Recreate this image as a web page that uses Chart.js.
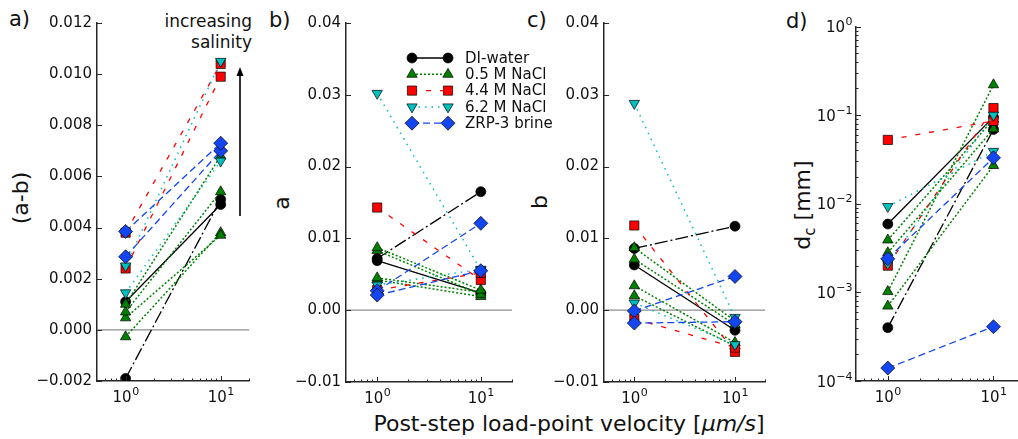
<!DOCTYPE html>
<html><head><meta charset="utf-8">
<script src="https://cdn.jsdelivr.net/npm/chart.js@4.4.1/dist/chart.umd.min.js"></script>
<style>
html,body{margin:0;padding:0;background:#fff;overflow:hidden;width:1018px;height:439px;}
body{position:relative;font-family:'DejaVu Sans',sans-serif;color:#111;}
canvas{position:absolute;top:0;}
.lbl{position:absolute;white-space:nowrap;line-height:1;}
.rot{transform:translate(-50%,-50%) rotate(-90deg);}
</style></head><body>
<div class="lbl" style="left:9px;top:9px;font-size:21px">a)</div>
<div class="lbl" style="left:269px;top:10px;font-size:21px">b)</div>
<div class="lbl" style="left:527px;top:10px;font-size:21px">c)</div>
<div class="lbl" style="left:786px;top:11px;font-size:21px">d)</div>
<div class="lbl rot" style="left:21px;top:198px;font-size:22px">(a-b)</div>
<div class="lbl rot" style="left:282px;top:203px;font-size:22px">a</div>
<div class="lbl rot" style="left:540px;top:202px;font-size:22px">b</div>
<div class="lbl rot" style="left:803px;top:205px;font-size:22px">d<span style="font-size:15px;position:relative;top:5px">c</span> [mm]</div>
<div class="lbl" style="left:569px;top:424px;transform:translate(-50%,-50%);font-size:22px">Post-step load-point velocity [<i>μm/s</i>]</div>
<div class="lbl" style="left:120px;width:132px;top:11px;text-align:right;font-size:17px;line-height:21px">increasing<br>salinity</div>
<script>
// ---------- data ----------
const velocities = [1, 10];
const fluids = ['DI-water', '0.5 M NaCl', '4.4 M NaCl', '6.2 M NaCl', 'ZRP-3 brine'];
// panel a: (a-b)  [value at 1, value at 10] per experiment
const abDI  = [[0.0011, 0.0049], [-0.0019, 0.0051]];
const ab05  = [[0.0010, 0.0068], [0.0007, 0.0054], [0.00047, 0.0037], [-0.00027, 0.0038]];
const ab44  = [[0.0038, 0.0104], [0.0024, 0.0099]];
const ab62  = [[0.0025, 0.0105], [0.00145, 0.0066]];
const abZRP = [[0.00385, 0.0073], [0.00286, 0.0070]];
// panel b: a
const aDI  = [[0.0069, 0.0024], [0.0072, 0.0165]];
const a05  = [[0.0087, 0.0028], [0.0083, 0.0022], [0.0045, 0.0025], [0.0042, 0.0019]];
const a44  = [[0.0028, 0.0052], [0.0143, 0.0042]];
const a62  = [[0.0035, 0.0057], [0.0302, 0.0056]];
const aZRP = [[0.0021, 0.0055], [0.0027, 0.0121]];
// panel c: b
const bDI  = [[0.0063, -0.0028], [0.0086, 0.0117]];
const b05  = [[0.0087, -0.0015], [0.0071, -0.0020], [0.0034, -0.0045], [0.0020, -0.0050]];
const b44  = [[-0.0012, -0.0052], [0.0118, -0.0058]];
const b62  = [[0.0010, -0.0048], [0.0288, -0.0010]];
const bZRP = [[-0.0018, -0.0016], [-0.0001, 0.0047]];
// panel d: dc [mm]
const dDI  = [[0.0059, 0.095], [0.0004, 0.069]];
const d05  = [[0.0039, 0.09], [0.0028, 0.07], [0.00102, 0.22], [0.0007, 0.027]];
const d44  = [[0.0020, 0.12], [0.0525, 0.086]];
const d62  = [[0.0021, 0.10], [0.0093, 0.039]];
const dZRP = [[0.00014, 0.00041], [0.0024, 0.033]];
// ticks
const xTicks = [1, 10];
const xTickExp = ['0', '1'];
const xMinorTicks = [0.6, 0.7, 0.8, 0.9, 2, 3, 4, 5, 6, 7, 8, 9, 20];
const abTicks = [-0.002, 0.000, 0.002, 0.004, 0.006, 0.008, 0.010, 0.012];
const aTicks = [-0.01, 0.00, 0.01, 0.02, 0.03, 0.04];
const bTicks = [-0.01, 0.00, 0.01, 0.02, 0.03, 0.04];
const dcTicks = [1e-4, 1e-3, 1e-2, 1e-1, 1];
const dcTickExp = ['\u22124', '\u22123', '\u22122', '\u22121', '0'];
const dcMinorTicks = [];
[1e-4, 1e-3, 1e-2, 1e-1].forEach(d => { for (let m = 2; m <= 9; m++) dcMinorTicks.push(m * d); });

// ---------- styles ----------
const styles = [
  {color: '#000000', marker: 'circle',   r: 5,   rot: 0,   lw: 1.3, dashes: [[], [13, 3, 2, 3]]},
  {color: '#008000', marker: 'triangle', r: 6,   rot: 0,   lw: 1.5, dashes: [[2, 2]]},
  {color: '#ff0000', marker: 'rect',     r: 6.5, rot: 0,   lw: 1.3, dashes: [[5, 9]]},
  {color: '#00bfbf', marker: 'triangle', r: 6,   rot: 180, lw: 1.5, dashes: [[1.5, 5]]},
  {color: '#1446f0', marker: 'rectRot',  r: 7,   rot: 0,   lw: 1.3, dashes: [[7, 4]]}
];
const AX = '#262626';
const TXT = '#111';
const H = 439, YW = 70;
const xMin = 0.5, xMax = 20;

Chart.defaults.font.family = "'DejaVu Sans', sans-serif";
Chart.defaults.font.size = 15;
Chart.defaults.color = TXT;

function drawPow(ctx, exp, x, y, align) {
  // draws "10" with a raised exponent; (x, y) = anchor, y = baseline of "10"
  ctx.font = "15px 'DejaVu Sans', sans-serif";
  const wb = ctx.measureText('10').width;
  ctx.font = "11px 'DejaVu Sans', sans-serif";
  const we = ctx.measureText(exp).width;
  const tot = wb + we;
  let x0 = align === 'center' ? x - tot / 2 : x - tot;
  ctx.textAlign = 'left'; ctx.textBaseline = 'alphabetic';
  ctx.font = "15px 'DejaVu Sans', sans-serif";
  ctx.fillText('10', x0, y);
  ctx.font = "11px 'DejaVu Sans', sans-serif";
  ctx.fillText(exp, x0 + wb + 0.5, y - 7);
}

const inTicks = {
  id: 'inTicks',
  afterDraw(chart, args, o) {
    if (!o.yMajor) return;
    const ctx = chart.ctx, xs = chart.scales.x, ys = chart.scales.y, ca = chart.chartArea;
    ctx.save(); ctx.strokeStyle = AX; ctx.lineWidth = 1; ctx.setLineDash([]);
    ctx.beginPath();
    const hx = (v, len) => { const p = Math.round(xs.getPixelForValue(v)) + 0.5; ctx.moveTo(p, ca.bottom); ctx.lineTo(p, ca.bottom - len); };
    const hy = (v, len) => { const p = Math.round(ys.getPixelForValue(v)) + 0.5; ctx.moveTo(ca.left, p); ctx.lineTo(ca.left + len, p); };
    xTicks.forEach(v => hx(v, 5));
    xMinorTicks.forEach(v => hx(v, 2.5));
    o.yMajor.forEach(v => hy(v, 5));
    (o.yMinor || []).forEach(v => hy(v, 2.5));
    ctx.stroke();
    ctx.fillStyle = TXT;
    xTicks.forEach((v, i) => drawPow(ctx, xTickExp[i], xs.getPixelForValue(v), ca.bottom + 21, 'center'));
    if (o.yExp) o.yMajor.forEach((v, i) => drawPow(ctx, o.yExp[i], ca.left - 4, ys.getPixelForValue(v) + 5.5, 'right'));
    ctx.restore();
  }
};

const extras = {
  id: 'extras',
  afterDraw(chart, args, o) {
    const ctx = chart.ctx;
    if (o.arrow) {
      const x = o.arrow.x - o.left;
      ctx.save(); ctx.strokeStyle = '#000'; ctx.fillStyle = '#000'; ctx.lineWidth = 1.6;
      ctx.beginPath(); ctx.moveTo(x, o.arrow.y0); ctx.lineTo(x, o.arrow.y1 + 6); ctx.stroke();
      ctx.beginPath(); ctx.moveTo(x, o.arrow.y1); ctx.lineTo(x - 3.5, o.arrow.y1 + 9); ctx.lineTo(x + 3.5, o.arrow.y1 + 9); ctx.closePath(); ctx.fill();
      ctx.restore();
    }
    if (o.legend) {
      const L = o.legend;
      ctx.save();
      fluids.forEach((name, i) => {
        const st = styles[i];
        const y = L.y0 + i * L.dy;
        const x1 = L.m1 - o.left, x2 = L.m2 - o.left;
        ctx.strokeStyle = st.color; ctx.lineWidth = st.lw; ctx.setLineDash(st.dashes[0]);
        ctx.beginPath(); ctx.moveTo(x1, y); ctx.lineTo(x2, y); ctx.stroke();
        ctx.setLineDash([]);
        ctx.fillStyle = st.color; ctx.strokeStyle = '#000'; ctx.lineWidth = 0.7;
        [x1, x2].forEach(px => Chart.helpers.drawPoint(ctx, {pointStyle: st.marker, radius: st.r, rotation: st.rot, borderWidth: 0.7}, px, y));
        ctx.fillStyle = TXT; ctx.font = "15px 'DejaVu Sans', sans-serif"; ctx.textBaseline = 'middle'; ctx.textAlign = 'left';
        ctx.fillText(name, L.tx - o.left, y + 1);
      });
      ctx.restore();
    }
  }
};

function buildPanel(cfg) {
  const RP = cfg.rp || 4;
  const left = cfg.plot.l - YW;
  const width = YW + (cfg.plot.r - cfg.plot.l) + RP;
  const cv = document.createElement('canvas');
  cv.width = width; cv.height = H;
  cv.style.left = left + 'px'; cv.style.width = width + 'px'; cv.style.height = H + 'px';
  document.body.appendChild(cv);
  const datasets = [];
  cfg.series.forEach((exps, i) => {
    const st = styles[i];
    exps.forEach((pair, j) => {
      datasets.push({
        label: fluids[i],
        data: velocities.map((v, k) => ({x: v, y: pair[k]})),
        borderColor: st.color, borderWidth: st.lw, borderDash: st.dashes[j % st.dashes.length],
        pointStyle: st.marker, pointRadius: st.r, pointHoverRadius: st.r, pointRotation: st.rot,
        pointBackgroundColor: st.color, pointBorderColor: '#000', pointBorderWidth: 0.7,
        order: 10 - i, tension: 0, fill: false
      });
    });
  });
  if (cfg.zero) datasets.push({data: [{x: xMin, y: 0}, {x: xMax, y: 0}], borderColor: '#8c8c8c', borderWidth: 1.2, pointRadius: 0, order: 100, fill: false});
  const yT = cfg.yTicks;
  new Chart(cv, {
    type: 'line',
    data: {datasets},
    options: {
      responsive: false, animation: false, devicePixelRatio: 1, events: [],
      layout: {padding: {top: cfg.plot.t, right: RP, left: 0, bottom: 0}},
      plugins: {
        legend: {display: false}, tooltip: {enabled: false},
        inTicks: {yMajor: yT, yMinor: cfg.yMinor, yExp: cfg.yExp},
        extras: {left: left, arrow: cfg.arrow, legend: cfg.legend}
      },
      scales: {
        x: {
          type: 'logarithmic', position: 'bottom', min: xMin, max: xMax, bounds: 'data',
          grid: {display: false, drawTicks: false}, border: {display: true, color: AX, width: 1.5},
          ticks: {padding: 6, autoSkip: false, maxRotation: 0, callback: () => ''},
          afterBuildTicks: s => { s.ticks = xTicks.map(v => ({value: v})); s.min = xMin; s.max = xMax; },
          afterFit: s => { s.height = H - cfg.plot.b; }
        },
        y: {
          type: cfg.yType, position: 'left', min: cfg.yMin, max: cfg.yMax, bounds: 'data',
          grid: {display: false, drawTicks: false}, border: {display: true, color: AX, width: 1.5},
          ticks: {padding: 5, autoSkip: false, callback: (v, i) => cfg.yLabel ? cfg.yLabel(yT[i]) : ''},
          afterBuildTicks: s => { s.ticks = yT.map(v => ({value: v})); s.min = cfg.yMin; s.max = cfg.yMax; },
          afterFit: s => { s.width = YW; }
        }
      }
    },
    plugins: [inTicks, extras]
  });
}

const fmt = d => (v => v.toFixed(d).replace('-', '\u2212'));

buildPanel({plot: {l: 97, r: 253, t: 23, b: 381}, yType: 'linear', yMin: -0.002, yMax: 0.012, yTicks: abTicks,
  yLabel: fmt(3), series: [abDI, ab05, ab44, ab62, abZRP], zero: true,
  arrow: {x: 240, y0: 216, y1: 67}});
buildPanel({plot: {l: 346, r: 512, t: 23, b: 382}, rp: 60, yType: 'linear', yMin: -0.01, yMax: 0.04, yTicks: aTicks,
  yLabel: fmt(2), series: [aDI, a05, a44, a62, aZRP], zero: true,
  legend: {y0: 58, dy: 16.3, m1: 412, m2: 448, tx: 465}});
buildPanel({plot: {l: 604, r: 769, t: 23, b: 382}, yType: 'linear', yMin: -0.01, yMax: 0.04, yTicks: bTicks,
  yLabel: fmt(2), series: [bDI, b05, b44, b62, bZRP], zero: true});
buildPanel({plot: {l: 856, r: 1029, t: 26.5, b: 381}, yType: 'logarithmic', yMin: 1e-4, yMax: 1, yTicks: dcTicks,
  yMinor: dcMinorTicks, yExp: dcTickExp, series: [dDI, d05, d44, d62, dZRP], zero: false});
</script>
</body></html>
